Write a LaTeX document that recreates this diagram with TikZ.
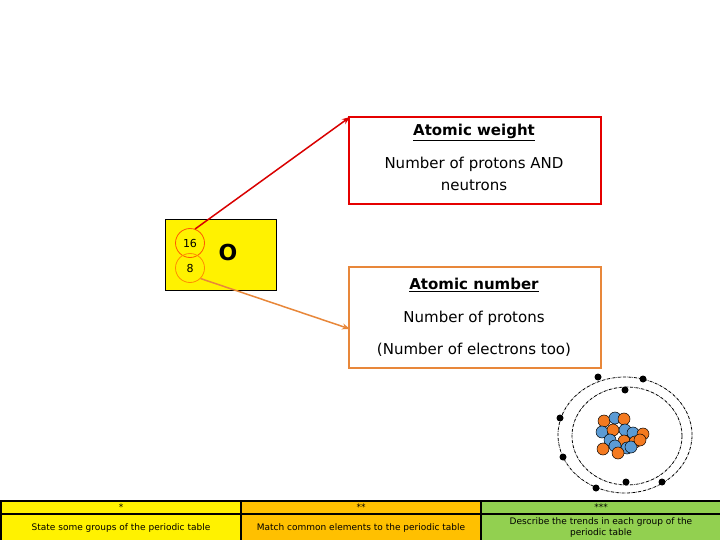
\documentclass[tikz,border=0pt]{standalone}
\usepackage{fontspec}
\setmainfont{DejaVu Sans}
\usetikzlibrary{arrows.meta}
\definecolor{oran}{HTML}{E8873A}
\definecolor{tabor}{HTML}{FFC000}
\definecolor{tabgr}{HTML}{92D050}
\definecolor{prot}{HTML}{F47A20}
\definecolor{neut}{HTML}{5B9BD5}
\tikzset{x=1pt,y=-1pt,
 lbl/.style={font=\fontsize{15}{22}\selectfont,align=center},
 ttl/.style={font=\fontsize{15}{18}\selectfont\bfseries},
 cell/.style={draw=black,line width=2pt,minimum height=13pt,inner sep=0pt,font=\fontsize{9}{11}\selectfont,align=center},
 elec/.style={fill=black,circle,inner sep=0pt,minimum size=7pt},
 pr/.style={circle,draw=black,line width=0.5pt,fill=prot,minimum size=12pt,inner sep=0pt},
 ne/.style={circle,draw=black,line width=0.5pt,fill=neut,minimum size=12pt,inner sep=0pt}}
\begin{document}
\begin{tikzpicture}
\useasboundingbox (0,0) rectangle (720,540);
\fill[white] (0,0) rectangle (720,540);
\node[draw=red!90!black,line width=2pt,minimum width=252pt,minimum height=87pt,anchor=north west] (aw) at (348,116) {};
\node[ttl] (awt) at (474,132) {\underline{Atomic weight}};
\node[lbl] (awx) at (474,174) {Number of protons AND\\neutrons};
\node[draw=oran,line width=2pt,minimum width=252pt,minimum height=101pt,anchor=north west] (an) at (348,266) {};
\node[ttl] (ant) at (474,285) {\underline{Atomic number}};
\node[lbl] (an1) at (474,318) {Number of protons};
\node[lbl] (an2) at (474,350) {(Number of electrons too)};
\node[draw=black,line width=1pt,fill=yellow,minimum width=111pt,minimum height=71pt,anchor=north west] (el) at (165,219) {};
\node[draw=orange!70!red,line width=0.8pt,circle,minimum size=29pt,inner sep=0pt,font=\fontsize{11}{12}\selectfont] (m) at (190,243) {16};
\node[draw=orange!90!yellow,line width=0.8pt,circle,minimum size=29pt,inner sep=0pt,font=\fontsize{11}{12}\selectfont] (z) at (190,268) {8};
\node[font=\fontsize{22}{24}\selectfont\bfseries] (o) at (228,252) {O};
\coordinate (awin) at (350,117);
\coordinate (anin) at (350,329);
\draw[red!85!black,line width=1.5pt,-{Stealth[length=8pt]}] (m.70) -- (awin);
\draw[oran,line width=1.5pt,-{Stealth[length=8pt]}] (z.-45) -- (anin);
\draw[densely dash dot,line width=0.8pt] (627,436) ellipse (55pt and 49pt);
\draw[densely dash dot,line width=0.8pt] (625,435) ellipse (67pt and 58pt);
\foreach \p in {(598,377),(643,379),(625,390),(560,418),(563,457),(626,482),(596,488),(662,482)} \node[elec] at \p {};
\node[pr] at (604,421) {}; \node[ne] at (615,418) {}; \node[pr] at (624,419) {};
\node[ne] at (602,432) {}; \node[pr] at (613,430) {}; \node[ne] at (625,430) {}; \node[ne] at (633,433) {}; \node[pr] at (643,434) {};
\node[ne] at (610,440) {}; \node[pr] at (624,441) {}; \node[pr] at (635,442) {};
\node[pr] at (603,449) {}; \node[ne] at (615,446) {}; \node[ne] at (627,448) {}; \node[ne] at (631,447) {};
\node[pr] at (618,453) {}; \node[pr] at (640,440) {};
\node[cell,fill=yellow,minimum width=240pt,anchor=north west] (c1) at (0,500) {*};
\node[cell,fill=tabor,minimum width=240pt,anchor=north west] (c2) at (240,500) {**};
\node[cell,fill=tabgr,minimum width=240pt,anchor=north west] (c3) at (480,500) {***};
\node[cell,fill=yellow,minimum width=240pt,minimum height=28pt,anchor=north west] (d1) at (0,513) {State some groups of the periodic table};
\node[cell,fill=tabor,minimum width=240pt,minimum height=28pt,anchor=north west] (d2) at (240,513) {Match common elements to the periodic table};
\node[cell,fill=tabgr,minimum width=240pt,minimum height=28pt,anchor=north west] (d3) at (480,513) {Describe the trends in each group of the\\periodic table};
\end{tikzpicture}
\end{document}
